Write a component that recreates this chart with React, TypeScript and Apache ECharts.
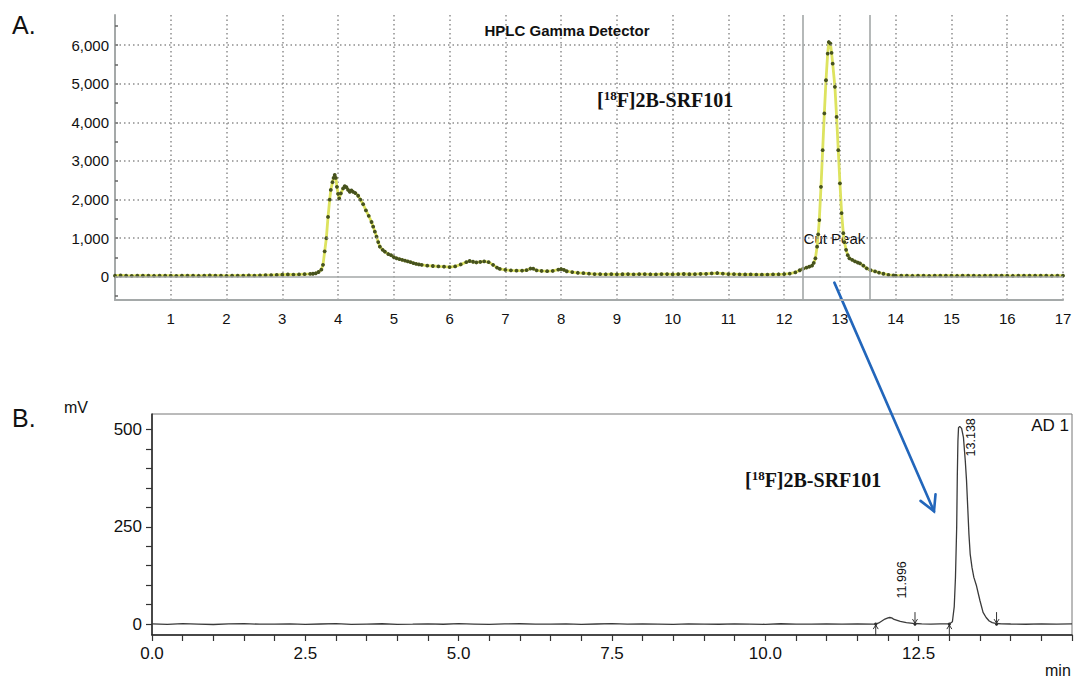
import React, { useEffect, useRef } from "react";
import * as echarts from "echarts";

// ---------- Panel A: HPLC gamma detector (counts vs min) ----------
const timesA = [
  0.0, 0.1, 0.2, 0.3, 0.4, 0.5, 0.6, 0.7, 0.8, 0.9, 1.0, 1.1, 1.2, 1.3, 1.4, 1.5, 1.6, 1.7, 1.8, 1.9,
  2.0, 2.1, 2.2, 2.3, 2.4, 2.5, 2.6, 2.7, 2.8, 2.9, 3.0, 3.1, 3.2, 3.3, 3.4, 3.5,
  3.55, 3.6, 3.65, 3.7, 3.73, 3.76, 3.79, 3.82, 3.85, 3.87, 3.9, 3.92, 3.94, 3.96, 3.98, 4.0, 4.02, 4.05,
  4.09, 4.12, 4.15, 4.18, 4.21, 4.24, 4.27, 4.31, 4.36, 4.4, 4.45, 4.5, 4.55, 4.6, 4.63, 4.66, 4.69, 4.72,
  4.75, 4.8, 4.84, 4.9, 4.95, 5.0, 5.05, 5.1, 5.15, 5.2, 5.25, 5.3, 5.35, 5.4, 5.45, 5.5,
  5.6, 5.7, 5.8, 5.9, 6.0, 6.1, 6.2, 6.3, 6.36, 6.42, 6.48, 6.55, 6.62, 6.7, 6.78, 6.85, 6.9, 7.0, 7.1,
  7.2, 7.3, 7.38, 7.45, 7.5, 7.56, 7.65, 7.75, 7.85, 7.95, 8.0, 8.05, 8.1, 8.2, 8.3, 8.4, 8.5, 8.6,
  8.7, 8.8, 8.9, 9.0, 9.1, 9.2, 9.3, 9.4, 9.5, 9.6, 9.7, 9.8, 9.9, 10.0, 10.1, 10.2, 10.3, 10.4, 10.5, 10.6,
  10.7, 10.8, 10.9, 11.0, 11.1, 11.2, 11.3, 11.4, 11.5, 11.6, 11.7, 11.8, 11.9, 12.0,
  12.1, 12.2, 12.28, 12.34, 12.4, 12.45, 12.5, 12.53, 12.56, 12.59, 12.61, 12.63, 12.66, 12.69, 12.72,
  12.75, 12.78, 12.8, 12.83, 12.85, 12.87, 12.91, 12.94, 12.97, 13.0, 13.03, 13.06, 13.08, 13.11, 13.14,
  13.17, 13.22, 13.27, 13.32, 13.36, 13.42, 13.48, 13.55, 13.63, 13.7, 13.78, 13.87, 13.96,
  14.0, 14.1, 14.2, 14.3, 14.4, 14.5, 14.6, 14.7, 14.8, 14.9, 15.0, 15.1, 15.2, 15.3, 15.4, 15.5, 15.6,
  15.7, 15.8, 15.9, 16.0, 16.1, 16.2, 16.3, 16.4, 16.5, 16.6, 16.7, 16.8, 16.9, 17.0,
];
const countsA = [
  30, 34, 29, 26, 31, 28, 33, 27, 30, 29, 31, 26, 32, 28, 30, 27, 31, 34, 29, 30,
  27, 31, 29, 33, 36, 31, 38, 42, 45, 50, 55, 60, 58, 63, 70, 75,
  80, 92, 125, 185, 310, 660, 1000, 1550, 2000, 2250, 2450, 2560, 2640, 2560, 2330, 2150, 2030, 2160,
  2290, 2350, 2320, 2250, 2200, 2240, 2200, 2170, 2100, 2000, 1880, 1720, 1580, 1420, 1300, 1170, 1040, 900,
  780, 700, 650, 590, 560, 510, 480, 460, 440, 420, 400, 380, 355, 335, 320, 310,
  290, 280, 270, 262, 252, 270, 320, 380, 410, 390, 372, 385, 400, 380, 310, 240, 205, 182, 168,
  160, 162, 172, 215, 210, 168, 152, 146, 152, 188, 200, 182, 145, 122, 105, 95, 82, 72,
  68, 66, 70, 64, 67, 72, 65, 68, 70, 66, 63, 68, 71, 65, 69, 73, 67, 70, 74, 78,
  90, 98, 85, 72, 68, 64, 60, 62, 58, 55, 58, 62, 66, 72,
  85, 115, 170, 210, 240, 262, 290, 360, 480, 780, 1100, 1470, 2330, 3280, 4230,
  5090, 5780, 6080, 6040, 5800, 5520, 4920, 4140, 3280, 2420, 1650, 1130, 900, 700, 560,
  480, 440, 400, 370, 350, 290, 220, 170, 140, 110, 80, 52, 35,
  30, 28, 32, 27, 31, 29, 26, 30, 33, 28, 31, 27, 30, 32, 29, 26, 31,
  28, 30, 33, 29, 27, 31, 30, 28, 32, 29, 31, 27, 30, 29,
];
const yTicksA = [0, 1000, 2000, 3000, 4000, 5000, 6000];
const yMinorTicksA = [-500, 0, 500, 1000, 1500, 2000, 2500, 3000, 3500, 4000, 4500, 5000, 5500, 6000, 6500];
const cutPeakA = [12.33, 13.54];

// ---------- Panel B: UV trace (mV vs min) ----------
const timesB = [
  0, 0.25, 0.5, 0.75, 1, 1.25, 1.5, 1.75, 2, 2.25, 2.5, 2.75, 3, 3.25, 3.5, 3.75, 4, 4.25, 4.5, 4.75,
  5, 5.25, 5.5, 5.75, 6, 6.25, 6.5, 6.75, 7, 7.25, 7.5, 7.75, 8, 8.25, 8.5, 8.75, 9, 9.25, 9.5, 9.75,
  10, 10.25, 10.5, 10.75, 11, 11.25, 11.5, 11.75,
  11.8, 11.85, 11.9, 11.95, 12.0, 12.03, 12.06, 12.1, 12.2, 12.3, 12.44, 12.55, 12.7, 12.85, 13.0,
  13.05, 13.08, 13.1, 13.12, 13.13, 13.14, 13.15, 13.17, 13.2, 13.23, 13.26, 13.28, 13.3, 13.32, 13.34,
  13.37, 13.4, 13.44, 13.47, 13.5, 13.55, 13.6, 13.65, 13.7, 13.77, 13.85, 14.0, 14.25, 14.5, 14.75, 15.0,
];
const signalB = [
  0.5, -0.5, 1, 0, -1, 0.5, 1.2, -0.3, 0, 0.8, -0.8, 0.3, 1, -0.5, 0.2, 0.9, -0.6, 0, 0.7, -0.4,
  1.1, 0.2, -0.7, 0.4, 0.9, -0.2, 0, 0.6, -0.9, 0.3, 1, -0.3, 0.5, 0.1, -0.6, 0.8, 0, -0.4, 0.7, 0.2,
  -0.5, 0.9, 0.1, -0.3, 0.6, 0, 0.4, -0.2,
  0, 3, 8, 13, 16, 17, 16, 12, 7, 4, 1.5, 0.5, -0.3, 0.4, 0.5,
  6, 45, 120, 250, 380, 470, 505, 508, 503, 480, 420, 370, 300, 230, 180,
  145, 120, 100, 80, 60, 30, 17, 8, 4, 1.5, 0.8, 0.3, -0.4, 0.6, 0.2, 0.5,
];
const yTicksB = [0, 250, 500];
const yMinorTicksB = [0, 50, 100, 150, 200, 250, 300, 350, 400, 450, 500];
const xTicksB = [0, 2.5, 5, 7.5, 10, 12.5];
const xMinorTicksB = [
  0, 0.5, 1, 1.5, 2, 2.5, 3, 3.5, 4, 4.5, 5, 5.5, 6, 6.5, 7, 7.5, 8, 8.5, 9, 9.5, 10, 10.5,
  11, 11.5, 12, 12.5, 13, 13.5, 14, 14.5, 15,
];
const peakRtB = [11.996, 13.138];
const peakApexB = [17, 508];
const peakStartB = [11.8, 13.0];
const peakEndB = [12.44, 13.77];

const SANS = "'Liberation Sans', Arial, Helvetica, sans-serif";
const SERIF = "'Liberation Serif', 'Times New Roman', serif";

export default function App() {
  const ref = useRef<HTMLDivElement>(null);

  useEffect(() => {
    if (!ref.current) return;
    const chart = echarts.init(ref.current, undefined, { renderer: "svg" });

    const dataA = timesA.map((t, i) => [t, countsA[i]]);
    const dataB = timesB.map((t, i) => [t, signalB[i]]);

    const dotted = { type: [1.5, 3] as any, color: "#8e8e8e", width: 1.5 };
    const solidGray = { type: "solid" as const, color: "#a3a7a7", width: 1.6 };

    chart.setOption({
      animation: false,
      backgroundColor: "#ffffff",
      grid: [
        { left: 115, right: 12, top: 15, height: 285 },
        { left: 152, right: 3, top: 414, height: 221, show: true, borderColor: "#777", borderWidth: 1 },
      ],
      xAxis: [
        {
          gridIndex: 0,
          type: "value",
          min: 0,
          max: 17,
          interval: 1,
          axisLine: { onZero: false, lineStyle: { color: "#a5a9a9", width: 2 } },
          axisTick: { show: false },
          axisLabel: { showMinLabel: false, color: "#111", fontSize: 15, margin: 11, fontFamily: SANS },
          splitLine: { show: true, lineStyle: dotted },
        },
        {
          gridIndex: 1,
          type: "value",
          min: 0,
          max: 15,
          axisLine: { onZero: false, lineStyle: { color: "#222", width: 1.5 } },
          axisTick: { show: true, customValues: xMinorTicksB, length: 6, lineStyle: { color: "#333", width: 1.2 } },
          axisLabel: {
            customValues: xTicksB,
            formatter: (v: number) => v.toFixed(1),
            color: "#111",
            fontSize: 17,
            margin: 10,
            fontFamily: SANS,
          },
          splitLine: { show: false },
        },
      ],
      yAxis: [
        {
          gridIndex: 0,
          type: "value",
          min: -600,
          max: 6780,
          axisLine: { show: true, onZero: false, lineStyle: { color: "#a5a9a9", width: 2 } },
          axisTick: { show: true, customValues: yMinorTicksA, inside: true, length: 3, lineStyle: { color: "#666", width: 1.5 } },
          axisLabel: {
            customValues: yTicksA,
            formatter: (v: number) => v.toLocaleString("en-US"),
            color: "#111",
            fontSize: 15,
            margin: 6,
            fontFamily: SANS,
          },
          splitLine: { show: false },
        },
        {
          gridIndex: 1,
          type: "value",
          min: -28,
          max: 540,
          axisLine: { show: true, onZero: false, lineStyle: { color: "#222", width: 1.5 } },
          axisTick: { show: true, customValues: yMinorTicksB, length: 6, lineStyle: { color: "#333", width: 1.2 } },
          axisLabel: { customValues: yTicksB, color: "#111", fontSize: 17, margin: 10, fontFamily: SANS },
          splitLine: { show: false },
        },
      ],
      series: [
        {
          type: "line",
          xAxisIndex: 0,
          yAxisIndex: 0,
          data: [],
          z: 1,
          silent: true,
          markLine: {
            silent: true,
            symbol: "none",
            label: { show: false },
            data: [
              { yAxis: 0, lineStyle: solidGray },
              ...yTicksA.filter((v) => v > 0).map((v) => ({ yAxis: v, lineStyle: dotted })),
              ...cutPeakA.map((v) => ({ xAxis: v, lineStyle: solidGray })),
            ],
          },
        },
        {
          type: "line",
          xAxisIndex: 0,
          yAxisIndex: 0,
          data: dataA,
          z: 3,
          silent: true,
          symbol: "circle",
          symbolSize: 3.8,
          showSymbol: true,
          itemStyle: { color: "#46521e", borderWidth: 0 },
          lineStyle: { color: "#dde35f", width: 2.8 },
          emphasis: { disabled: true },
        },
        {
          type: "line",
          xAxisIndex: 1,
          yAxisIndex: 1,
          data: dataB,
          z: 3,
          silent: true,
          showSymbol: false,
          lineStyle: { color: "#3a3a3a", width: 1.3 },
          emphasis: { disabled: true },
        },
      ],
    });

    const pA = (x: number, y: number) => chart.convertToPixel({ gridIndex: 0 }, [x, y]) as number[];
    const pB = (x: number, y: number) => chart.convertToPixel({ gridIndex: 1 }, [x, y]) as number[];

    const graphics: any[] = [];
    const txt = (x: number, y: number, text: string, size: number, extra: any = {}) =>
      graphics.push({
        type: "text",
        x,
        y,
        silent: true,
        style: { text, fontSize: size, fontFamily: SANS, fill: "#111", textAlign: "left", textVerticalAlign: "middle", ...extra },
      });

    txt(12, 25, "A.", 25);
    txt(12, 418, "B.", 25);
    txt(567, 30, "HPLC Gamma Detector", 15, { fontWeight: "bold", textAlign: "center" });
    txt(64, 407, "mV", 16);
    txt(1069, 425, "AD 1", 17, { textAlign: "right" });
    txt(1045, 670, "min", 16);

    const cp = pA(cutPeakA[0], 1000);
    txt(cp[0] + 1, cp[1], "Cut Peak", 15);

    const compound = (x: number, y: number) =>
      graphics.push({
        type: "text",
        x,
        y,
        silent: true,
        style: {
          text: "{b|[}{s|18}{b|F]2B-SRF101}",
          textAlign: "left",
          textVerticalAlign: "middle",
          rich: {
            b: { fontFamily: SERIF, fontWeight: "bold", fontSize: 20, lineHeight: 24, fill: "#111", verticalAlign: "bottom" },
            s: { fontFamily: SERIF, fontWeight: "bold", fontSize: 13, lineHeight: 13, fill: "#111", verticalAlign: "bottom", padding: [0, 0, 8, 0] },
          },
        },
      });
    compound(597, 98);
    compound(745, 478);

    // blue arrow linking the cut peak to the analytical trace
    const a0 = pA(12.9, -150);
    const a1 = pB(12.75, 290);
    const dx = a1[0] - a0[0];
    const dy = a1[1] - a0[1];
    const len = Math.hypot(dx, dy);
    const ux = dx / len;
    const uy = dy / len;
    const wing = (ang: number) => {
      const c = Math.cos(ang);
      const s = Math.sin(ang);
      const rx = ux * c - uy * s;
      const ry = ux * s + uy * c;
      return [a1[0] - rx * 17, a1[1] - ry * 17];
    };
    const blue = { stroke: "#2266bb", lineWidth: 2.6, fill: null, lineCap: "round" };
    graphics.push({ type: "line", silent: true, shape: { x1: a0[0], y1: a0[1], x2: a1[0], y2: a1[1] }, style: blue });
    graphics.push({ type: "polyline", silent: true, shape: { points: [wing(0.5), a1, wing(-0.5)] }, style: blue });

    // peak retention-time labels (rotated)
    const labelOffsets = [
      { dx: 14, dy: -19 },
      { dx: 13, dy: 30 },
    ];
    peakRtB.forEach((rt, i) => {
      const p = pB(rt, peakApexB[i]);
      graphics.push({
        type: "text",
        x: p[0] + labelOffsets[i].dx,
        y: p[1] + labelOffsets[i].dy,
        rotation: Math.PI / 2,
        silent: true,
        style: { text: rt.toFixed(3), fontSize: 12.5, fontFamily: SANS, fill: "#111", textAlign: "left", textVerticalAlign: "middle" },
      });
    });

    // integration markers
    const markStyle = { stroke: "#333", lineWidth: 1, fill: null };
    peakStartB.forEach((t) => {
      const p = pB(t, 0);
      graphics.push({ type: "line", silent: true, shape: { x1: p[0], y1: p[1] + 11, x2: p[0], y2: p[1] + 1 }, style: markStyle });
      graphics.push({ type: "polyline", silent: true, shape: { points: [[p[0] - 2.5, p[1] + 5], [p[0], p[1] + 1], [p[0] + 2.5, p[1] + 5]] }, style: markStyle });
      graphics.push({ type: "circle", silent: true, shape: { cx: p[0], cy: p[1], r: 1.6 }, style: { fill: "#222" } });
    });
    peakEndB.forEach((t) => {
      const p = pB(t, 0);
      graphics.push({ type: "line", silent: true, shape: { x1: p[0], y1: p[1] - 12, x2: p[0], y2: p[1] - 1 }, style: markStyle });
      graphics.push({ type: "polyline", silent: true, shape: { points: [[p[0] - 2.5, p[1] - 5], [p[0], p[1] - 1], [p[0] + 2.5, p[1] - 5]] }, style: markStyle });
      graphics.push({ type: "circle", silent: true, shape: { cx: p[0], cy: p[1], r: 1.6 }, style: { fill: "#222" } });
    });

    chart.setOption({ graphic: graphics });

    return () => chart.dispose();
  }, []);

  return (
    <div
      ref={ref}
      style={{ position: "absolute", left: 0, top: 0, width: 1075, height: 682, background: "#fff" }}
    />
  );
}
